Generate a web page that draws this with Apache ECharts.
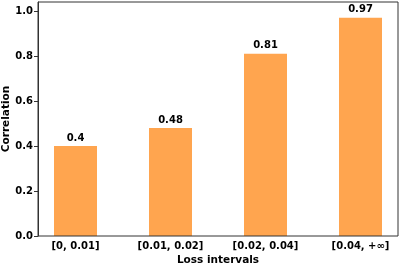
<!DOCTYPE html>
<html><head><meta charset="utf-8">
<script src="https://cdn.jsdelivr.net/npm/echarts@6/dist/echarts.min.js"></script>
<style>html,body{margin:0;padding:0;background:#fff}#c{width:399px;height:267px}</style>
</head><body><div id="c"></div>
<script>
const categories = ['[0, 0.01]', '[0.01, 0.02]', '[0.02, 0.04]', '[0.04, +\u221e]'];
const correlation = [0.4, 0.48, 0.81, 0.97];
const yTicks = [0, 0.2, 0.4, 0.6, 0.8, 1.0];

const font = 'DejaVu Sans';
const chart = echarts.init(document.getElementById('c'), null, {renderer: 'canvas'});
chart.setOption({
  animation: false,
  grid: [
    {left: 28, width: 380, top: 2, bottom: 31, outerBoundsMode: 'none', containLabel: false},
    {left: 38, right: 1, top: 2, bottom: 31, outerBoundsMode: 'none', containLabel: false, show: true, borderColor: '#333', borderWidth: 1, backgroundColor: 'transparent', z: 5}
  ],
  xAxis: [
    {type: 'category', gridIndex: 0, data: categories,
     axisLine: {show: false}, axisTick: {show: false},
     axisLabel: {fontFamily: font, fontWeight: 'bold', fontSize: 10, color: '#000', margin: 5},
     name: 'Loss intervals', nameLocation: 'middle', nameGap: 19, nameMoveOverlap: false,
     nameTextStyle: {fontFamily: font, fontWeight: 'bold', fontSize: 10.5, color: '#000'}},
    {type: 'value', gridIndex: 1, min: 0, max: 1, show: false}
  ],
  yAxis: [
    {type: 'value', gridIndex: 0, min: 0, max: 1.04, show: false},
    {type: 'value', gridIndex: 1, min: 0, max: 1.04,
     splitLine: {show: false},
     axisLine: {show: true, lineStyle: {color: '#333', width: 1}},
     axisTick: {show: true, length: 4, lineStyle: {color: '#333'}, customValues: yTicks},
     axisLabel: {customValues: yTicks, formatter: v => v.toFixed(1), fontFamily: font, fontWeight: 'bold', fontSize: 10, color: '#000', margin: 5},
     name: 'Correlation', nameLocation: 'middle', nameGap: 26, nameRotate: 90, nameMoveOverlap: false,
     nameTextStyle: {fontFamily: font, fontWeight: 'bold', fontSize: 10.5, color: '#000'}}
  ],
  series: [{
    type: 'bar', xAxisIndex: 0, yAxisIndex: 0, data: correlation,
    barWidth: 43,
    itemStyle: {color: '#ffa54f'},
    label: {show: true, position: 'top', distance: 3, fontFamily: font, fontWeight: 'bold', fontSize: 10, color: '#000'}
  }]
});
</script></body></html>
